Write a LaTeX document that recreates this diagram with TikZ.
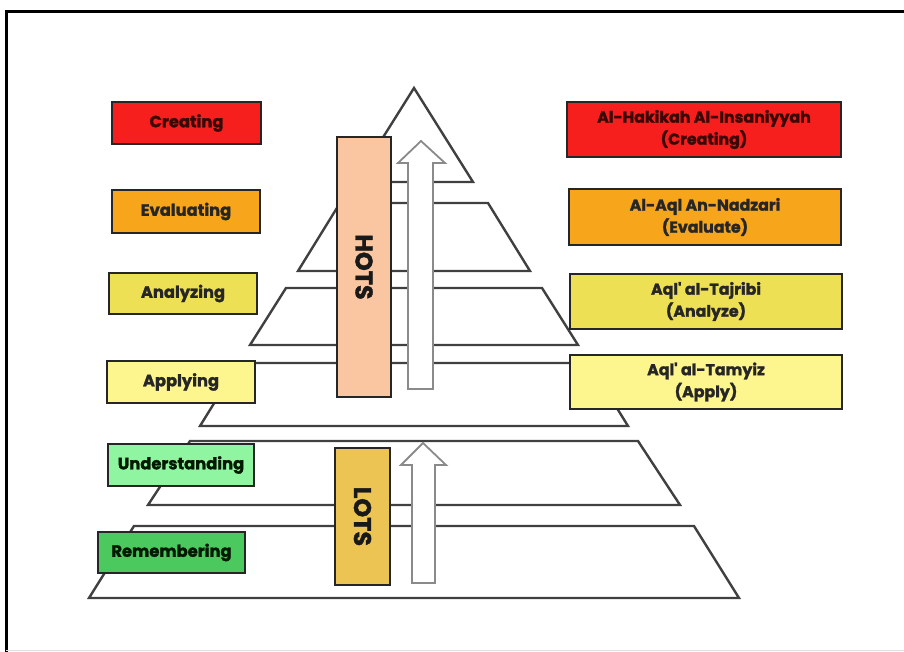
\documentclass[tikz,border=0pt]{standalone}
\usepackage{fontspec}
\setmainfont{Poppins}[Ligatures=TeXOff,BoldFeatures={FakeBold=1.6}]
\definecolor{cRed}{HTML}{F71E1E}
\definecolor{cOrange}{HTML}{F7A51B}
\definecolor{cYellow}{HTML}{EEE055}
\definecolor{cLYellow}{HTML}{FDF58D}
\definecolor{cLGreen}{HTML}{90F5A0}
\definecolor{cGreen}{HTML}{4CC95E}
\definecolor{cPeach}{HTML}{F9C6A1}
\definecolor{cGold}{HTML}{ECC453}
\definecolor{tiergray}{HTML}{404040}
\definecolor{arrowgray}{HTML}{8A8A8A}
\definecolor{maroon}{HTML}{3A0808}
\begin{document}
\begin{tikzpicture}[x=1pt,y=-1pt,
  tier/.style={draw=tiergray,line width=2.4pt,line join=miter,fill=white},
  uparrow/.style={draw=arrowgray,line width=1.8pt,fill=white,line join=miter},
  box/.style={draw=black!85,line width=2.4pt,inner sep=0pt,align=center,
    font=\bfseries\fontsize{16.3}{21}\selectfont,text=black!85},
  rbox/.style={box,font=\bfseries\fontsize{15.8}{22}\selectfont},
  vbox/.style={draw=black!85,line width=2.4pt,inner sep=0pt},
  vlabel/.style={rotate=-90,font=\bfseries\fontsize{24}{26}\selectfont,text=black!90}]
\useasboundingbox (0,0) rectangle (904,651);
\fill[white] (0,0) rectangle (904,651);
% frame
\draw[black,line width=3pt] (6,652) -- (6,11) -- (905,11);
\draw[black!12,line width=1pt] (6,650) -- (904,650);
% pyramid tiers
\def\cx{414}
\draw[tier] (\cx,88) -- (\cx+59,182) -- (\cx-59,182) -- cycle;
\draw[tier] (\cx-74,203) -- (\cx+74,203) -- (\cx+116,271) -- (\cx-116,271) -- cycle;
\draw[tier] (\cx-128,288) -- (\cx+128,288) -- (\cx+164,345) -- (\cx-164,345) -- cycle;
\draw[tier] (\cx-175,363) -- (\cx+175,363) -- (\cx+214,426) -- (\cx-214,426) -- cycle;
\draw[tier] (\cx-224,441) -- (\cx+224,441) -- (\cx+266,505) -- (\cx-266,505) -- cycle;
\draw[tier] (\cx-280,526) -- (\cx+280,526) -- (\cx+325,598) -- (\cx-325,598) -- cycle;
% arrows
\draw[uparrow] (408,389) -- (408,163) -- (398,163) -- (421,141) -- (445,163) -- (433,163) -- (433,389) -- cycle;
\draw[uparrow] (412,583) -- (412,465) -- (401,465) -- (423,443) -- (446,465) -- (435,465) -- (435,583) -- cycle;
% HOTS / LOTS
\node[vbox,fill=cPeach,minimum width=54pt,minimum height=260pt] (hots) at (364,267) {};
\node[vlabel] (hotslabel) at (hots.center) {HOTS};
\node[vbox,fill=cGold,minimum width=55pt,minimum height=137pt] (lots) at (362.5,516.5) {};
\node[vlabel] (lotslabel) at (lots.center) {LOTS};
% left boxes
\node[box,fill=cRed,text=maroon,minimum width=149pt,minimum height=42pt] (creating) at (186.5,123) {Creating};
\node[box,fill=cOrange,minimum width=148pt,minimum height=43pt] (evaluating) at (186,211.5) {Evaluating};
\node[box,fill=cYellow,minimum width=148pt,minimum height=41pt] (analyzing) at (183,293.5) {Analyzing};
\node[box,fill=cLYellow,minimum width=148pt,minimum height=42pt] (applying) at (181,382) {Applying};
\node[box,fill=cLGreen,text=black!90!green,minimum width=146pt,minimum height=42pt] (understanding) at (181,465) {Understanding};
\node[box,fill=cGreen,text=black!90!green,minimum width=147pt,minimum height=41pt] (remembering) at (171.5,552.5) {Remembering};
% right boxes
\node[rbox,fill=cRed,text=maroon,minimum width=274pt,minimum height=55pt] (hakikah) at (704,129.5) {Al-Hakikah Al-Insaniyyah\\(Creating)};
\node[rbox,fill=cOrange,minimum width=272pt,minimum height=56pt] (nadzari) at (705,217) {Al-Aql An-Nadzari\\(Evaluate)};
\node[rbox,fill=cYellow,minimum width=272pt,minimum height=55pt] (tajribi) at (706,301.5) {Aql' al-Tajribi\\(Analyze)};
\node[rbox,fill=cLYellow,minimum width=272pt,minimum height=54pt] (tamyiz) at (706,382) {Aql' al-Tamyiz\\(Apply)};
\end{tikzpicture}
\end{document}
